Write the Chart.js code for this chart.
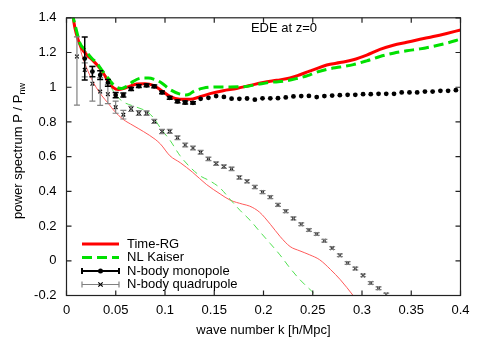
<!DOCTYPE html>
<html>
<head>
<meta charset="utf-8">
<script src="https://cdn.jsdelivr.net/npm/chart.js@4.4.1/dist/chart.umd.min.js"></script>
<style>
html, body { margin: 0; padding: 0; background: #fff; }
#wrap { width: 485px; height: 339px; }
</style>
</head>
<body>
<div id="wrap"><canvas id="grafico" width="485" height="339"></canvas></div>
<script>
// rejilla de k de las simulaciones N-body
const kGrid = [
    0.0106, 0.0185, 0.0263, 0.0342, 0.0420, 0.0499, 0.0577, 0.0656, 0.0734, 0.0813,
    0.0891, 0.0970, 0.1048, 0.1127, 0.1205, 0.1284, 0.1362, 0.1441, 0.1519, 0.1598,
    0.1676, 0.1755, 0.1833, 0.1912, 0.1990, 0.2069, 0.2147, 0.2226, 0.2304, 0.2383,
    0.2461, 0.2540, 0.2618, 0.2697, 0.2775, 0.2854, 0.2932, 0.3011, 0.3089, 0.3168,
    0.3246, 0.3325, 0.3403, 0.3482, 0.3560, 0.3639, 0.3717, 0.3796, 0.3874, 0.3953
];

// monopolo: k = kGrid[1..49]
const monopolo = [
    1.165, 1.09, 1.07, 1.025, 0.955, 0.955, 0.99, 1.006, 1.011, 1.005,
    0.97, 0.939, 0.918, 0.912, 0.91, 0.933, 0.939, 0.949, 0.944, 0.934,
    0.933, 0.935, 0.928, 0.936, 0.936, 0.937, 0.941, 0.947, 0.949, 0.950,
    0.943, 0.949, 0.952, 0.954, 0.956, 0.956, 0.960, 0.960, 0.962, 0.962,
    0.962, 0.970, 0.970, 0.970, 0.975, 0.975, 0.979, 0.979, 0.983
];
const monopoloErr = [
    0.124, 0.03, 0.025, 0.02, 0.015, 0.012, 0.009, 0.008, 0.008, 0.008,
    0.008, 0.008, 0.008, 0.008, 0.006, 0, 0, 0, 0, 0,
    0, 0, 0, 0, 0, 0, 0, 0, 0, 0,
    0, 0, 0, 0, 0, 0, 0, 0, 0, 0,
    0, 0, 0, 0, 0, 0, 0, 0, 0
];

// cuadrupolo: k = kGrid[0..40]
const cuadrupolo = [
    1.177, 1.10, 1.02, 0.975, 0.96, 0.885, 0.842, 0.875, 0.851, 0.851,
    0.803, 0.745, 0.746, 0.709, 0.667, 0.650, 0.625, 0.587, 0.560, 0.543,
    0.530, 0.480, 0.458, 0.425, 0.396, 0.367, 0.322, 0.286, 0.244, 0.211,
    0.177, 0.154, 0.115, 0.073, 0.032, -0.013, -0.045, -0.084, -0.128, -0.158,
    -0.194
];
const cuadErrMenos = [
    0.28, 0.04, 0.10, 0.08, 0.055, 0.035, 0.025, 0.015, 0.014, 0.013,
    0.012, 0.012, 0.012, 0.011, 0.011, 0.011, 0.011, 0.010, 0.010, 0.010,
    0.010, 0.010, 0.009, 0.009, 0.009, 0.009, 0.009, 0.009, 0.009, 0.008,
    0.008, 0.008, 0.008, 0.008, 0.008, 0.008, 0.008, 0.008, 0.008, 0.008,
    0.008
];
const cuadErrMas = [
    0.113, 0.04, 0.10, 0.08, 0.055, 0.035, 0.025, 0.015, 0.014, 0.013,
    0.012, 0.012, 0.012, 0.011, 0.011, 0.011, 0.011, 0.010, 0.010, 0.010,
    0.010, 0.010, 0.009, 0.009, 0.009, 0.009, 0.009, 0.009, 0.009, 0.008,
    0.008, 0.008, 0.008, 0.008, 0.008, 0.008, 0.008, 0.008, 0.008, 0.008,
    0.008
];

// Time-RG (monopolo)
const timeRgK = [
    0.006, 0.0086, 0.012, 0.0154, 0.0205, 0.0272, 0.0323, 0.0373, 0.0424, 0.0475,
    0.0526, 0.0577, 0.0645, 0.0713, 0.0797, 0.0881, 0.0949, 0.105, 0.1152, 0.1254,
    0.1355, 0.1457, 0.159, 0.1727, 0.186, 0.1997, 0.2134, 0.2269, 0.2371, 0.2455,
    0.2505, 0.2642, 0.2777, 0.2912, 0.3048, 0.3183, 0.3318, 0.3454, 0.3589, 0.3724,
    0.386, 0.4
];
const timeRg = [
    1.43, 1.34, 1.27, 1.225, 1.187, 1.152, 1.12, 1.082, 1.034, 0.998,
    0.987, 0.992, 1.006, 1.018, 1.02, 1.011, 0.987, 0.947, 0.93, 0.93,
    0.945, 0.963, 0.98, 0.993, 1.01, 1.027, 1.04, 1.053, 1.072, 1.09,
    1.1, 1.128, 1.142, 1.158, 1.185, 1.218, 1.242, 1.259, 1.276, 1.292,
    1.31, 1.33
];

// NL Kaiser (monopolo)
const kaiserK = [
    0.0055, 0.0069, 0.0104, 0.0137, 0.0188, 0.0256, 0.0307, 0.0357, 0.0408, 0.0459,
    0.051, 0.056, 0.0611, 0.0678, 0.0763, 0.083, 0.0898, 0.0966, 0.105, 0.1152,
    0.1213, 0.1254, 0.1287, 0.1389, 0.1525, 0.166, 0.1795, 0.193, 0.2066, 0.2201,
    0.2337, 0.2455, 0.2505, 0.2642, 0.2777, 0.2912, 0.3048, 0.3183, 0.3318, 0.3454,
    0.3589, 0.3724, 0.386, 0.4
];
const kaiser = [
    1.43, 1.40, 1.32, 1.253, 1.215, 1.167, 1.139, 1.10, 1.063, 1.025,
    1.0, 0.993, 1.006, 1.034, 1.053, 1.053, 1.044, 1.025, 0.987, 0.96,
    0.955, 0.962, 0.975, 0.995, 1.002, 1.002, 1.003, 1.015, 1.028, 1.034,
    1.05, 1.068, 1.08, 1.103, 1.116, 1.13, 1.152, 1.177, 1.196, 1.21,
    1.221, 1.236, 1.254, 1.277
];

// curvas finas (cuadrupolo)
const timeRgCuadK = [
    0.006, 0.0086, 0.012, 0.0154, 0.022, 0.028, 0.036, 0.042, 0.049, 0.0575,
    0.0675, 0.078, 0.09, 0.0955, 0.105, 0.1155, 0.128, 0.142, 0.156, 0.166,
    0.179, 0.186, 0.196, 0.207, 0.217, 0.227, 0.237, 0.247, 0.257, 0.268,
    0.278, 0.291, 0.295
];
const timeRgCuad = [
    1.43, 1.34, 1.27, 1.19, 1.09, 1.02, 0.95, 0.91, 0.86, 0.815,
    0.78, 0.745, 0.70, 0.672, 0.605, 0.565, 0.51, 0.44, 0.385, 0.35,
    0.326, 0.315, 0.28, 0.21, 0.139, 0.082, 0.057, 0.034, 0.006, -0.05,
    -0.109, -0.2, -0.23
];
const kaiserCuadK = [
    0.0055, 0.0069, 0.0104, 0.0137, 0.0188, 0.0256, 0.0307, 0.0357, 0.0408, 0.0462,
    0.051, 0.0577, 0.0662, 0.0746, 0.0817, 0.0881, 0.0966, 0.105, 0.1152, 0.1254,
    0.1355, 0.1457, 0.1558, 0.166, 0.1761, 0.1863, 0.1964, 0.2066, 0.2167, 0.2269,
    0.237, 0.249, 0.2556
];
const kaiserCuad = [
    1.43, 1.40, 1.32, 1.253, 1.215, 1.167, 1.139, 1.10, 1.06, 0.99,
    0.95, 0.915, 0.895, 0.878, 0.86, 0.825, 0.755, 0.695, 0.606, 0.54,
    0.49, 0.46, 0.42, 0.355, 0.291, 0.234, 0.167, 0.101, 0.034, -0.042,
    -0.109, -0.175, -0.21
];

const FUENTE = '"Liberation Sans", Arial, Helvetica, sans-serif';
Chart.defaults.font.family = FUENTE;
Chart.defaults.font.size = 13;
Chart.defaults.color = "#000";

function puntos(ks, ys) {
    return ys.map((y, i) => ({ x: ks[i], y: y }));
}

const kMono = kGrid.slice(1, 1 + monopolo.length);
const kCuad = kGrid.slice(0, cuadrupolo.length);

// barras de error de los puntos N-body
const barrasError = {
    id: "barrasError",
    afterDatasetsDraw(chart) {
        const ctx = chart.ctx, a = chart.chartArea;
        const sx = chart.scales.x, sy = chart.scales.y;
        ctx.save();
        ctx.beginPath();
        ctx.rect(a.left, a.top, a.right - a.left, a.bottom - a.top);
        ctx.clip();
        const dibujar = (ks, vals, menos, mas, color, ancho) => {
            ctx.strokeStyle = color;
            ctx.lineWidth = ancho;
            ks.forEach((k, i) => {
                if (!menos[i] && !mas[i]) return;
                const px = sx.getPixelForValue(k);
                const y1 = sy.getPixelForValue(vals[i] - menos[i]);
                const y2 = sy.getPixelForValue(vals[i] + mas[i]);
                ctx.beginPath();
                ctx.moveTo(px, y1); ctx.lineTo(px, y2);
                ctx.moveTo(px - 3, y1); ctx.lineTo(px + 3, y1);
                ctx.moveTo(px - 3, y2); ctx.lineTo(px + 3, y2);
                ctx.stroke();
            });
        };
        dibujar(kCuad, cuadrupolo, cuadErrMenos, cuadErrMas, "#808080", 1.2);
        dibujar(kMono, monopolo, monopoloErr, monopoloErr, "#000", 1.5);
        ctx.restore();
    }
};

// marco, ticks hacia dentro, titulos y leyenda estilo gnuplot
const marco = {
    id: "marco",
    afterDraw(chart) {
        const ctx = chart.ctx, a = chart.chartArea;
        const sx = chart.scales.x, sy = chart.scales.y;
        ctx.save();
        ctx.strokeStyle = "#222";
        ctx.lineWidth = 1.2;
        ctx.strokeRect(a.left, a.top, a.right - a.left, a.bottom - a.top);
        ctx.beginPath();
        sx.ticks.forEach(t => {
            const px = sx.getPixelForValue(t.value);
            ctx.moveTo(px, a.bottom); ctx.lineTo(px, a.bottom - 5);
            ctx.moveTo(px, a.top); ctx.lineTo(px, a.top + 5);
        });
        sy.ticks.forEach(t => {
            const py = sy.getPixelForValue(t.value);
            ctx.moveTo(a.left, py); ctx.lineTo(a.left + 5, py);
            ctx.moveTo(a.right, py); ctx.lineTo(a.right - 5, py);
        });
        ctx.stroke();

        // titulo interior
        ctx.fillStyle = "#000";
        ctx.font = "13px " + FUENTE;
        ctx.textAlign = "center";
        ctx.textBaseline = "middle";
        ctx.fillText("EDE at z=0", 284, 28);

        // titulo del eje y con subindice
        const principal = "power spectrum P / P", sub = "nw";
        ctx.save();
        ctx.translate(17, 151);
        ctx.rotate(-Math.PI / 2);
        ctx.textAlign = "left";
        ctx.textBaseline = "alphabetic";
        ctx.font = "13px " + FUENTE;
        const w1 = ctx.measureText(principal).width;
        ctx.font = "9px " + FUENTE;
        const w2 = ctx.measureText(sub).width;
        const x0 = -(w1 + w2) / 2;
        ctx.font = "13px " + FUENTE;
        ctx.fillText(principal, x0, 4.5);
        ctx.font = "9px " + FUENTE;
        ctx.fillText(sub, x0 + w1, 7.5);
        ctx.restore();

        // leyenda
        const xa = 82, xb = 119, xm = 100.5, xt = 127;
        const filas = [244, 257.5, 271, 284.5];
        ctx.font = "13px " + FUENTE;
        ctx.textAlign = "left";
        ctx.textBaseline = "middle";
        chart.data.datasets.filter(d => d.muestra).forEach((d, i) => {
            const y = filas[i];
            ctx.save();
            ctx.strokeStyle = d.colorMuestra;
            ctx.lineWidth = d.anchoMuestra;
            ctx.setLineDash(d.muestra === "linea" ? (d.borderDash || []) : []);
            ctx.beginPath();
            ctx.moveTo(xa, y); ctx.lineTo(xb, y);
            if (d.muestra === "error") {
                ctx.moveTo(xa, y - 3); ctx.lineTo(xa, y + 3);
                ctx.moveTo(xb, y - 3); ctx.lineTo(xb, y + 3);
            }
            ctx.stroke();
            if (d.pointStyle === "circle") {
                ctx.fillStyle = "#000";
                ctx.beginPath();
                ctx.arc(xm, y, 2.5, 0, Math.PI * 2);
                ctx.fill();
            } else if (d.pointStyle === "crossRot") {
                ctx.strokeStyle = "#000";
                ctx.lineWidth = 1.2;
                ctx.beginPath();
                ctx.moveTo(xm - 2.2, y - 2.2); ctx.lineTo(xm + 2.2, y + 2.2);
                ctx.moveTo(xm - 2.2, y + 2.2); ctx.lineTo(xm + 2.2, y - 2.2);
                ctx.stroke();
            }
            ctx.restore();
            ctx.fillStyle = "#000";
            ctx.fillText(d.label, xt, y);
        });
        ctx.restore();
    }
};

new Chart(document.getElementById("grafico"), {
    type: "scatter",
    data: {
        datasets: [
            {
                label: "Time-RG",
                data: puntos(timeRgK, timeRg),
                showLine: true,
                borderColor: "#ff0000",
                borderWidth: 3,
                pointRadius: 0,
                cubicInterpolationMode: "monotone",
                clip: 0,
                order: 4,
                muestra: "linea", colorMuestra: "#ff0000", anchoMuestra: 3
            },
            {
                label: "NL Kaiser",
                data: puntos(kaiserK, kaiser),
                showLine: true,
                borderColor: "#00e000",
                borderWidth: 3,
                borderDash: [10, 5],
                pointRadius: 0,
                cubicInterpolationMode: "monotone",
                clip: 0,
                order: 3,
                muestra: "linea", colorMuestra: "#00e000", anchoMuestra: 3
            },
            {
                label: "N-body monopole",
                data: puntos(kMono, monopolo),
                showLine: false,
                pointStyle: "circle",
                pointRadius: 2.4,
                backgroundColor: "#000",
                borderColor: "#000",
                borderWidth: 0,
                clip: 0,
                order: 1,
                muestra: "error", colorMuestra: "#000", anchoMuestra: 2
            },
            {
                label: "N-body quadrupole",
                data: puntos(kCuad, cuadrupolo),
                showLine: false,
                pointStyle: "crossRot",
                pointRadius: 2.6,
                borderColor: "#000",
                borderWidth: 1.2,
                clip: 0,
                order: 2,
                muestra: "error", colorMuestra: "#808080", anchoMuestra: 1.2
            },
            {
                label: "Time-RG quad",
                data: puntos(timeRgCuadK, timeRgCuad),
                showLine: true,
                borderColor: "#ff5a5a",
                borderWidth: 1,
                pointRadius: 0,
                cubicInterpolationMode: "monotone",
                clip: 0,
                order: 6
            },
            {
                label: "NL Kaiser quad",
                data: puntos(kaiserCuadK, kaiserCuad),
                showLine: true,
                borderColor: "#50e050",
                borderWidth: 1,
                borderDash: [7, 5],
                pointRadius: 0,
                cubicInterpolationMode: "monotone",
                clip: 0,
                order: 5
            }
        ]
    },
    options: {
        responsive: false,
        devicePixelRatio: 1,
        animation: false,
        layout: { padding: { top: 15.5, right: 24.5, left: 0, bottom: 0 } },
        scales: {
            x: {
                type: "linear",
                min: 0,
                max: 0.4,
                grid: { display: false, drawTicks: false },
                border: { display: false },
                ticks: {
                    stepSize: 0.05,
                    padding: 7,
                    callback: v => String(+v.toFixed(2))
                },
                title: {
                    display: true,
                    text: "wave number k [h/Mpc]",
                    padding: { top: 0, bottom: 1 }
                },
                afterFit: s => { s.height = 43.5; }
            },
            y: {
                type: "linear",
                min: -0.2,
                max: 1.4,
                grid: { display: false, drawTicks: false },
                border: { display: false },
                ticks: {
                    stepSize: 0.2,
                    padding: 10,
                    callback: v => String(+v.toFixed(1))
                },
                afterFit: s => { s.width = 66.5; }
            }
        },
        plugins: {
            legend: { display: false },
            tooltip: { enabled: false }
        }
    },
    plugins: [barrasError, marco]
});
</script>
</body>
</html>
